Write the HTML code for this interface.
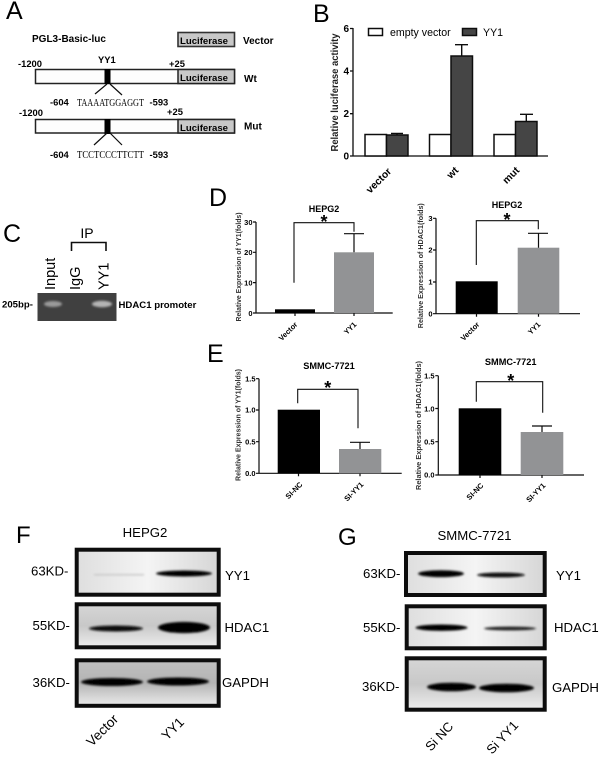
<!DOCTYPE html>
<html><head><meta charset="utf-8"><style>
html,body{margin:0;padding:0;background:#fff}
svg{display:block;font-family:"Liberation Sans",sans-serif}
.b{font-weight:bold}
.bl{fill:#000}.gr{fill:#929395}
.ln{stroke:#111;fill:none}
</style></head><body>
<svg width="600" height="758" viewBox="0 0 600 758" xmlns="http://www.w3.org/2000/svg">
<defs>
<filter id="s" x="-5%" y="-5%" width="110%" height="110%"><feGaussianBlur stdDeviation="0.35"/></filter>
<filter id="b1" x="-30%" y="-200%" width="160%" height="500%"><feGaussianBlur stdDeviation="1"/></filter>
<filter id="sh" x="-5%" y="-10%" width="110%" height="120%"><feGaussianBlur stdDeviation="0.8"/></filter>
<linearGradient id="g1" x1="0" x2="1" y1="0" y2="0"><stop offset="0" stop-color="#dedede"/><stop offset=".5" stop-color="#f4f4f4"/><stop offset="1" stop-color="#d6d6d6"/></linearGradient>
<linearGradient id="g2" x1="0" x2="0" y1="0" y2="1"><stop offset="0" stop-color="#d6d6d6"/><stop offset=".5" stop-color="#c8c8c8"/><stop offset="1" stop-color="#eeeeee"/></linearGradient>
<linearGradient id="g3" x1="0" x2="0" y1="0" y2="1"><stop offset="0" stop-color="#c0c0c0"/><stop offset=".5" stop-color="#b4b4b4"/><stop offset="1" stop-color="#ececec"/></linearGradient>
</defs>

<g filter="url(#s)">
<!-- Panel A -->
<text x="6" y="19" font-size="25">A</text>
<text x="32" y="42" font-size="10" class="b">PGL3-Basic-luc</text>
<rect x="178" y="32.5" width="56.5" height="14" fill="#c8c8c8" stroke="#333" stroke-width="1.6"/>
<text x="180" y="44" font-size="9.6" class="b">Luciferase</text>
<text x="243" y="44" font-size="10" class="b">Vector</text>

<text x="18" y="67" font-size="9.4" class="b">-1200</text>
<text x="98" y="63" font-size="9.4" class="b">YY1</text>
<text x="169" y="67" font-size="9.4" class="b">+25</text>
<rect x="35.5" y="69.5" width="199" height="14" fill="#fdfdfd" stroke="#222" stroke-width="1.5"/>
<rect x="178" y="69.5" width="56.5" height="14" fill="#c8c8c8" stroke="#222" stroke-width="1.5"/>
<text x="180" y="81" font-size="9.6" class="b">Luciferase</text>
<text x="244" y="82" font-size="10" class="b">Wt</text>
<rect x="104.5" y="69" width="6" height="15" fill="#000"/>
<path d="M107 84L95 94M110 84L122 95" class="ln" stroke-width="1.2"/>
<text x="50" y="105.5" font-size="9.4" class="b">-604</text>
<text x="77" y="106" font-size="10.5" font-family="Liberation Serif" textLength="67" lengthAdjust="spacingAndGlyphs">TAAAATGGAGGT</text>
<text x="149.5" y="105.5" font-size="9.4" class="b">-593</text>

<text x="19" y="116" font-size="9.4" class="b">-1200</text>
<text x="167" y="115" font-size="9.4" class="b">+25</text>
<rect x="35.5" y="119.5" width="199" height="13.5" fill="#fdfdfd" stroke="#222" stroke-width="1.5"/>
<rect x="178" y="119.5" width="56.5" height="13.5" fill="#c8c8c8" stroke="#222" stroke-width="1.5"/>
<text x="180" y="131" font-size="9.6" class="b">Luciferase</text>
<text x="244" y="129.5" font-size="10" class="b">Mut</text>
<rect x="104.5" y="119" width="6" height="15" fill="#000"/>
<path d="M107 133L94 145M110 133L122 145" class="ln" stroke-width="1.2"/>
<text x="50" y="158" font-size="9.4" class="b">-604</text>
<text x="77" y="158" font-size="10.5" font-family="Liberation Serif" textLength="67" lengthAdjust="spacingAndGlyphs">TCCTCCCTTCTT</text>
<text x="149.5" y="158" font-size="9.4" class="b">-593</text>

<!-- Panel B -->
<text x="313" y="22" font-size="25">B</text>
<rect x="368.5" y="28.5" width="14" height="7" fill="#fff" stroke="#111" stroke-width="1.5"/>
<text x="390" y="36" font-size="10.6">empty vector</text>
<rect x="462.5" y="28.5" width="14" height="7" fill="#444" stroke="#111" stroke-width="1.5"/>
<text x="483" y="36" font-size="10.6">YY1</text>
<path d="M353 28V156M353 28.5h-3M353 71h-3M353 113.7h-3M353 156h-3M350 156H548" class="ln" stroke-width="1.3"/>
<g font-size="10" class="b" text-anchor="end">
<text x="349" y="32">6</text><text x="349" y="74.5">4</text><text x="349" y="117">2</text><text x="349" y="159.5">0</text>
</g>
<text transform="translate(338,92.5) rotate(-90)" font-size="10.5" class="b" text-anchor="middle" fill="#222" textLength="118" lengthAdjust="spacingAndGlyphs">Relative luciferase activity</text>
<g stroke="#111" stroke-width="1.5">
<rect x="365" y="134.5" width="21.5" height="21.5" fill="#fff"/>
<rect x="386.5" y="135" width="21.5" height="21" fill="#444"/>
<rect x="429.5" y="134.5" width="21.5" height="21.5" fill="#fff"/>
<rect x="451" y="56" width="21.5" height="100" fill="#444"/>
<rect x="494" y="134.5" width="21.5" height="21.5" fill="#fff"/>
<rect x="515.5" y="121.5" width="21.5" height="34.5" fill="#444"/>
</g>
<path d="M397 135V133.5M391 133.5H403M461.7 56V44.7M455 44.7H468M526.3 121V114.3M520 114.3H533" class="ln" stroke-width="1.4"/>
<g font-size="10.3" class="b" text-anchor="end">
<text transform="translate(392,172) rotate(-45)">vector</text>
<text transform="translate(459,171) rotate(-45)">wt</text>
<text transform="translate(520,171) rotate(-45)">mut</text>
</g>

<!-- Panel C -->
<text x="3" y="242" font-size="25">C</text>
<text x="87" y="238" font-size="14" text-anchor="middle">IP</text>
<path d="M71.5 251V242.5H106V251" class="ln" stroke-width="1.6"/>
<g font-size="14.5">
<text transform="translate(55,290) rotate(-90)">Input</text>
<text transform="translate(80,290) rotate(-90)">IgG</text>
<text transform="translate(108.5,290) rotate(-90)">YY1</text>
</g>
<text x="2" y="307.7" font-size="9.6" class="b">205bp-</text>
<rect x="37.5" y="293" width="79" height="28" fill="#404040"/>
<ellipse cx="53" cy="304" rx="9" ry="3" fill="#9a9a9a" filter="url(#b1)"/>
<ellipse cx="102" cy="304" rx="10" ry="3.2" fill="#b5b5b5" filter="url(#b1)"/>
<text x="118.5" y="308" font-size="9.6" class="b">HDAC1 promoter</text>

<!-- Panel D -->
<text x="209" y="206" font-size="25">D</text>
<text x="324" y="212" font-size="9" class="b" text-anchor="middle">HEPG2</text>
<text x="324" y="228" font-size="18" class="b" text-anchor="middle">*</text>
<path d="M256 222V313M253 222h3M253 252.3h3M253 282.6h3M253 313H392.7M295 313v3M354 313v3" class="ln" stroke-width="1.2"/>
<g font-size="7.5" class="b" text-anchor="end"><text x="252.5" y="225">30</text><text x="252.5" y="255">20</text><text x="252.5" y="285.5">10</text><text x="252.5" y="316">0</text></g>
<text transform="translate(241,267) rotate(-90)" font-size="7.4" text-anchor="middle" class="b" fill="#333" textLength="109" lengthAdjust="spacingAndGlyphs">Relative Expression of YY1(folds)</text>
<rect x="275" y="309.3" width="40" height="3.7" class="bl"/>
<rect x="334" y="252.3" width="40" height="60.7" class="gr"/>
<path d="M354 252.3V233.7M344 233.7H364" class="ln" stroke-width="1.2"/>
<path d="M294 282.7V222.7H354V231.7" class="ln" stroke-width="1.1"/>
<g font-size="7.5" class="b" text-anchor="end">
<text transform="translate(298,325) rotate(-45)">Vector</text>
<text transform="translate(357,325) rotate(-45)">YY1</text>
</g>

<text x="507" y="208" font-size="9" class="b" text-anchor="middle">HEPG2</text>
<text x="507" y="226" font-size="18" class="b" text-anchor="middle">*</text>
<path d="M436 218.3V313.7M433 218.3h3M433 250h3M433 282h3M433 313.7H580M476.5 313.7v3M538.5 313.7v3" class="ln" stroke-width="1.2"/>
<g font-size="7.5" class="b" text-anchor="end"><text x="432.5" y="221">3</text><text x="432.5" y="252.7">2</text><text x="432.5" y="284.7">1</text><text x="432.5" y="316.5">0</text></g>
<text transform="translate(423,265.7) rotate(-90)" font-size="7.5" text-anchor="middle" class="b" fill="#333" textLength="125" lengthAdjust="spacingAndGlyphs">Relative Expression of HDAC1(folds)</text>
<rect x="455.7" y="281.3" width="42" height="32.4" class="bl"/>
<rect x="517.7" y="247.7" width="41.6" height="66" class="gr"/>
<path d="M538.5 247.7V233.3M528 233.3H548" class="ln" stroke-width="1.2"/>
<path d="M476.3 265V220.7H538.3V229.3" class="ln" stroke-width="1.1"/>
<g font-size="7.5" class="b" text-anchor="end">
<text transform="translate(480,325) rotate(-45)">Vector</text>
<text transform="translate(541,325) rotate(-45)">YY1</text>
</g>

<!-- Panel E -->
<text x="207" y="362" font-size="25">E</text>
<text x="329" y="369" font-size="9.2" class="b" text-anchor="middle">SMMC-7721</text>
<text x="327.7" y="394" font-size="18" class="b" text-anchor="middle">*</text>
<path d="M259 378.7V473.3M256 378.7h3M256 410h3M256 441.7h3M256 473.3H401.7M298.5 473.3v3M360 473.3v3" class="ln" stroke-width="1.2"/>
<g font-size="7.5" class="b" text-anchor="end"><text x="255.5" y="381.5">1.5</text><text x="255.5" y="412.7">1.0</text><text x="255.5" y="444.5">0.5</text><text x="255.5" y="476">0.0</text></g>
<text transform="translate(240.7,425) rotate(-90)" font-size="7.5" text-anchor="middle" class="b" fill="#333" textLength="112" lengthAdjust="spacingAndGlyphs">Relative Expression of YY1(folds)</text>
<rect x="277.7" y="409.7" width="42.3" height="63.6" class="bl"/>
<rect x="339" y="449" width="42.3" height="24.3" class="gr"/>
<path d="M360 449V442.3M350 442.3H370" class="ln" stroke-width="1.2"/>
<path d="M297.7 403.3V389.3H358V428.3" class="ln" stroke-width="1.1"/>
<g font-size="7.5" class="b" text-anchor="end">
<text transform="translate(303,485) rotate(-45)">SI-NC</text>
<text transform="translate(364,485) rotate(-45)">SI-YY1</text>
</g>

<text x="510.7" y="365" font-size="9.2" class="b" text-anchor="middle">SMMC-7721</text>
<text x="510.7" y="387" font-size="18" class="b" text-anchor="middle">*</text>
<path d="M438.3 375.7V475M435.3 375.7h3M435.3 408.5h3M435.3 441.7h3M435.3 475H584M480 475v3M542 475v3" class="ln" stroke-width="1.2"/>
<g font-size="7.5" class="b" text-anchor="end"><text x="434.5" y="378.5">1.5</text><text x="434.5" y="411.3">1.0</text><text x="434.5" y="444.5">0.5</text><text x="434.5" y="477.7">0.0</text></g>
<text transform="translate(421,425.5) rotate(-90)" font-size="7.5" text-anchor="middle" class="b" fill="#333" textLength="129" lengthAdjust="spacingAndGlyphs">Relative Expression of HDAC1(folds)</text>
<rect x="458.7" y="408.3" width="42.6" height="66.7" class="bl"/>
<rect x="520.7" y="432" width="42.6" height="43" class="gr"/>
<path d="M542 432V426M532 426H552" class="ln" stroke-width="1.2"/>
<path d="M476.3 401.7V381.7H542.7V412.7" class="ln" stroke-width="1.1"/>
<g font-size="7.5" class="b" text-anchor="end">
<text transform="translate(484,486) rotate(-45)">SI-NC</text>
<text transform="translate(546,486) rotate(-45)">SI-YY1</text>
</g>

<!-- Panel F -->
<text x="16" y="543" font-size="24">F</text>
<text x="145" y="537" font-size="13.2" text-anchor="middle">HEPG2</text>
<rect x="76.7" y="549.7" width="142" height="45" fill="url(#g1)" stroke="#0c0c0c" stroke-width="4"/>
<rect x="76.7" y="604.3" width="142" height="43" fill="url(#g2)" stroke="#0c0c0c" stroke-width="4"/>
<rect x="76.7" y="660.3" width="142" height="45.5" fill="url(#g3)" stroke="#0c0c0c" stroke-width="4"/>
<g filter="url(#b1)">
<rect x="94" y="574" width="50" height="1.5" fill="#c8c8c8"/>
<ellipse cx="184" cy="573.5" rx="28" ry="3" fill="#000"/>
<ellipse cx="116" cy="628.5" rx="27" ry="3" fill="#111"/>
<ellipse cx="184" cy="627.5" rx="26" ry="5.6" fill="#000"/>
<ellipse cx="112" cy="682" rx="31" ry="4" fill="#000"/>
<ellipse cx="178" cy="681.5" rx="31" ry="4" fill="#000"/>
</g>
<g font-size="13.2">
<text x="31" y="575.5">63KD-</text><text x="32.5" y="630">55KD-</text><text x="32.5" y="687">36KD-</text>
<text x="225" y="580">YY1</text><text x="224.5" y="632">HDAC1</text><text x="222" y="687">GAPDH</text>
</g>
<g font-size="13.5" text-anchor="end">
<text transform="translate(119,720) rotate(-45)">Vector</text>
<text transform="translate(185,723) rotate(-45)">YY1</text>
</g>

<!-- Panel G -->
<text x="338" y="545" font-size="24">G</text>
<text x="474.5" y="540" font-size="13.2" text-anchor="middle">SMMC-7721</text>
<rect x="406" y="553" width="138.7" height="42" fill="url(#g1)" stroke="#0c0c0c" stroke-width="4"/>
<rect x="406.7" y="606.3" width="138" height="42" fill="url(#g1)" stroke="#0c0c0c" stroke-width="4"/>
<rect x="406.7" y="658.3" width="138" height="51.4" fill="url(#g2)" stroke="#0c0c0c" stroke-width="4"/>
<g filter="url(#b1)">
<ellipse cx="441" cy="573.7" rx="23" ry="3.4" fill="#000"/>
<ellipse cx="501" cy="575" rx="24" ry="2.4" fill="#0a0a0a"/>
<ellipse cx="441.5" cy="627.7" rx="26" ry="3.2" fill="#000"/>
<ellipse cx="510" cy="628.5" rx="26" ry="1.9" fill="#222"/>
<ellipse cx="451.5" cy="687" rx="24.5" ry="4.3" fill="#000"/>
<ellipse cx="506.5" cy="688" rx="27.5" ry="4.3" fill="#000"/>
</g>
<g font-size="13.2">
<text x="363" y="578">63KD-</text><text x="363" y="632">55KD-</text><text x="362" y="691">36KD-</text>
<text x="556" y="580">YY1</text><text x="554" y="632">HDAC1</text><text x="552" y="692">GAPDH</text>
</g>
<g font-size="13" text-anchor="end">
<text transform="translate(454,727) rotate(-47)">Si NC</text>
<text transform="translate(519,726) rotate(-47)">Si YY1</text>
</g>
</g>
</svg>
</body></html>
